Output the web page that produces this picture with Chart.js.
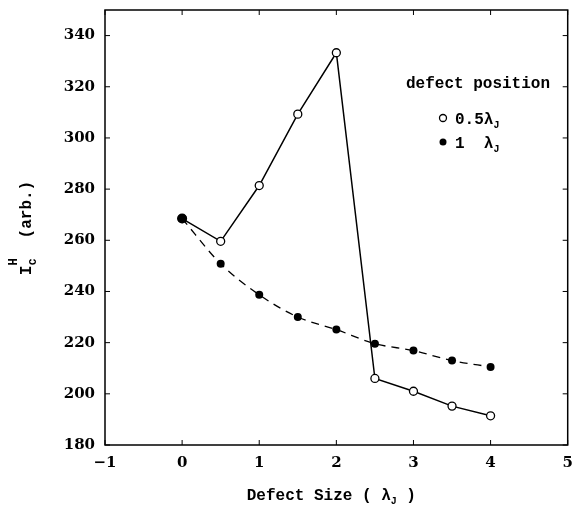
<!DOCTYPE html>
<html lang="en">
  <head>
    <meta charset="utf-8">
    <title>Ic H vs defect size</title>
    <style>
      body { margin: 0; background: #fff; }
      #graph { display: block; }
    </style>
  </head>
  <body>
    <canvas id="graph" width="573" height="511"></canvas>

    <script src="https://cdn.jsdelivr.net/npm/chart.js@4.4.0/dist/chart.umd.min.js"></script>
    <script>
    // values
    var defectSize = [0, 0.5, 1, 1.5, 2, 2.5, 3, 3.5, 4];
    var pos05 = [268.5, 259.6, 281.4, 309.3, 333.3, 206.0, 201.0, 195.2, 191.4];
    var pos1 = [268.5, 250.8, 238.7, 230.0, 225.1, 219.6, 216.9, 213.0, 210.5];
    var xTicks = [-1, 0, 1, 2, 3, 4, 5];
    var yTicks = [180, 200, 220, 240, 260, 280, 300, 320, 340];

    var tickFont = 'bold 15px "DejaVu Serif"';
    var monoBold = 'bold 16px "Liberation Mono"';

    function pts(ys) {
      return defectSize.map(function (x, i) { return { x: x, y: ys[i] }; });
    }

    // frame, inward ticks, tick labels, axis titles and legend
    var decor = {
      id: 'decor',
      afterDraw: function (chart) {
        var c = chart.ctx, a = chart.chartArea;
        var sx = chart.scales.x, sy = chart.scales.y;
        c.save();
        c.strokeStyle = '#000';
        c.lineWidth = 1.5;
        c.strokeRect(a.left, a.top, a.right - a.left, a.bottom - a.top);
        c.lineWidth = 1;
        c.beginPath();
        xTicks.forEach(function (v) {
          var px = sx.getPixelForValue(v);
          c.moveTo(px, a.bottom); c.lineTo(px, a.bottom - 5);
          c.moveTo(px, a.top); c.lineTo(px, a.top + 5);
        });
        yTicks.forEach(function (v) {
          var py = sy.getPixelForValue(v);
          c.moveTo(a.left, py); c.lineTo(a.left + 5, py);
          c.moveTo(a.right, py); c.lineTo(a.right - 5, py);
        });
        c.stroke();

        c.fillStyle = '#000';
        c.font = tickFont;
        c.textBaseline = 'middle';
        c.textAlign = 'right';
        yTicks.forEach(function (v) {
          c.fillText(String(v), a.left - 10, sy.getPixelForValue(v));
        });
        c.textAlign = 'center';
        c.textBaseline = 'top';
        xTicks.forEach(function (v) {
          c.fillText(String(v).replace('-', '\u2212'), sx.getPixelForValue(v), a.bottom + 11);
        });

        c.textAlign = 'left';
        c.textBaseline = 'alphabetic';
        // x title
        c.font = monoBold;
        var main = 'Defect Size ( \u03bb';
        var w1 = c.measureText(main).width;
        c.font = 'bold 10px "Liberation Mono"';
        var ws = c.measureText('J').width;
        c.font = monoBold;
        var w2 = c.measureText(' )').width;
        var x0 = (a.left + a.right) / 2 - 5 - (w1 + ws + w2) / 2;
        c.fillText(main, x0, 500);
        c.font = 'bold 10px "Liberation Mono"';
        c.fillText('J', x0 + w1, 504);
        c.font = monoBold;
        c.fillText(' )', x0 + w1 + ws, 500);

        // y title, rotated
        c.save();
        c.translate(31, 228);
        c.rotate(-Math.PI / 2);
        c.font = monoBold;
        var wi = c.measureText('I').width;
        var wr = c.measureText('  (arb.)').width;
        var yx = -(wi + 8 + wr) / 2;
        c.fillText('I', yx, 0);
        c.font = 'bold 12px "Liberation Mono"';
        c.fillText('c', yx + wi, 5);
        c.fillText('H', yx + wi, -14);
        c.font = monoBold;
        c.fillText('  (arb.)', yx + wi + 8, 0);
        c.restore();

        // legend
        c.font = monoBold;
        c.textAlign = 'center';
        c.fillText('defect position', 478, 88);
        c.textAlign = 'left';
        c.lineWidth = 1.3;
        c.beginPath(); c.arc(443, 118, 3.5, 0, Math.PI * 2);
        c.fillStyle = '#fff'; c.fill(); c.stroke();
        c.fillStyle = '#000';
        c.beginPath(); c.arc(443, 142, 3.5, 0, Math.PI * 2); c.fill();
        c.fillText('0.5\u03bb', 455, 124);
        var wl = c.measureText('0.5\u03bb').width;
        c.fillText('1  \u03bb', 455, 148);
        var wl2 = c.measureText('1  \u03bb').width;
        c.font = 'bold 10px "Liberation Mono"';
        c.fillText('J', 455 + wl, 128);
        c.fillText('J', 455 + wl2, 152);
        c.restore();
      }
    };

    var ctx = document.getElementById('graph').getContext('2d');
    var chart = new Chart(ctx, {
      type: 'scatter',
      data: {
        datasets: [{
          label: '1 \u03bbJ',
          data: pts(pos1),
          order: 0,
          showLine: true,
          borderColor: '#000',
          borderWidth: 1.3,
          borderDash: [8, 6],
          cubicInterpolationMode: 'monotone',
          pointRadius: [5, 4, 4, 4, 4, 4, 4, 4, 4],
          pointBackgroundColor: '#000',
          pointBorderColor: '#000',
          pointBorderWidth: 0
        }, {
          label: '0.5\u03bbJ',
          data: pts(pos05),
          order: 1,
          showLine: true,
          borderColor: '#000',
          borderWidth: 1.5,
          tension: 0,
          pointRadius: 4,
          pointBackgroundColor: '#fff',
          pointBorderColor: '#000',
          pointBorderWidth: 1.3
        }]
      },
      options: {
        responsive: false,
        animation: false,
        layout: { padding: { top: 10, right: 4, left: 0, bottom: 0 } },
        plugins: { legend: { display: false }, tooltip: { enabled: false } },
        scales: {
          x: {
            type: 'linear',
            min: -1, max: 5,
            afterBuildTicks: function (s) { s.ticks = xTicks.map(function (v) { return { value: v }; }); },
            afterFit: function (s) { s.height = 66; },
            grid: { display: false, drawTicks: false },
            border: { display: false },
            ticks: { display: false }
          },
          y: {
            type: 'linear',
            min: 180, max: 350,
            afterBuildTicks: function (s) { s.ticks = yTicks.map(function (v) { return { value: v }; }); },
            afterFit: function (s) { s.width = 105; },
            grid: { display: false, drawTicks: false },
            border: { display: false },
            ticks: { display: false }
          }
        }
      },
      plugins: [decor]
    });
    </script>
  </body>
</html>
